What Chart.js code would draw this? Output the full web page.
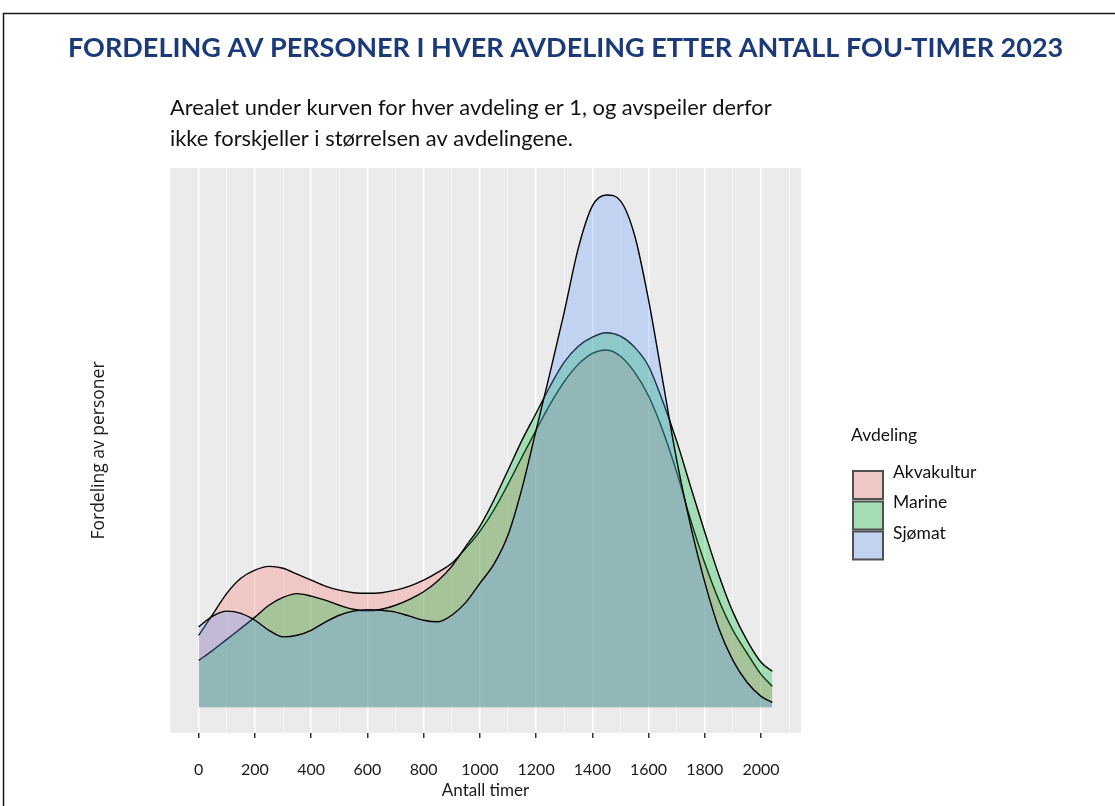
<!DOCTYPE html>
<html>
<head>
<meta charset="utf-8">
<script src="https://cdn.jsdelivr.net/npm/chart.js@4.4.1/dist/chart.umd.min.js"></script>
<style>
  body { margin: 0; background: #fff; }
  canvas { display: block; }
</style>
</head>
<body>
<canvas id="densChart" width="1115" height="806"></canvas>
<script>
var hours = [0, 50, 100, 150, 200, 250, 300, 350, 400, 450, 500, 550, 600, 650, 700, 750, 800, 850, 900, 950,
  1000, 1050, 1100, 1150, 1200, 1250, 1300, 1350, 1400, 1450, 1500, 1550, 1600, 1650, 1700, 1750, 1800, 1850, 1900, 1950,
  2000, 2040];

// density (per 1000 timer)
var akvakultur = [0.230, 0.297, 0.364, 0.412, 0.438, 0.450, 0.444, 0.425, 0.406, 0.387,
  0.374, 0.366, 0.364, 0.366, 0.374, 0.387, 0.406, 0.431, 0.460, 0.508,
  0.562, 0.630, 0.712, 0.800, 0.885, 0.968, 1.040, 1.095, 1.130, 1.141,
  1.121, 1.070, 0.994, 0.885, 0.751, 0.597, 0.460, 0.342, 0.246, 0.173,
  0.105, 0.067];
var marine = [0.150, 0.182, 0.217, 0.252, 0.288, 0.326, 0.351, 0.363, 0.355, 0.342,
  0.326, 0.313, 0.308, 0.313, 0.326, 0.345, 0.369, 0.403, 0.450, 0.514,
  0.578, 0.662, 0.757, 0.853, 0.939, 1.026, 1.102, 1.153, 1.182, 1.196,
  1.185, 1.150, 1.089, 0.978, 0.850, 0.703, 0.559, 0.422, 0.304, 0.214,
  0.144, 0.115];
var sjomat = [0.257, 0.291, 0.307, 0.300, 0.278, 0.246, 0.225, 0.230, 0.246, 0.272,
  0.294, 0.307, 0.312, 0.310, 0.304, 0.291, 0.278, 0.273, 0.294, 0.335,
  0.396, 0.457, 0.550, 0.700, 0.885, 1.070, 1.262, 1.466, 1.601, 1.636,
  1.617, 1.508, 1.300, 1.045, 0.789, 0.578, 0.399, 0.252, 0.150, 0.080,
  0.035, 0.016];

var xTicks = [0, 200, 400, 600, 800, 1000, 1200, 1400, 1600, 1800, 2000];
var avdelinger = ['Akvakultur', 'Marine', 'Sjømat'];

var titleText = 'FORDELING AV PERSONER I HVER AVDELING ETTER ANTALL FOU-TIMER 2023';
var subtitleLines = ['Arealet under kurven for hver avdeling er 1, og avspeiler derfor',
  'ikke forskjeller i størrelsen av avdelingene.'];

var fills = ['rgba(248,118,109,0.3)', 'rgba(0,186,56,0.3)', 'rgba(97,156,255,0.3)'];

function toPoints(vals) {
    return hours.map(function (h, i) { return { x: h, y: vals[i] }; });
}

function fitSize(ctx, text, weight, family, width) {
    ctx.font = weight + ' 20px ' + family;
    return 20 * width / ctx.measureText(text).width;
}

var decor = {
    id: 'decor',
    beforeDraw: function (chart) {
        var ctx = chart.ctx, a = chart.chartArea;
        ctx.save();
        ctx.fillStyle = '#ffffff';
        ctx.fillRect(0, 0, chart.width, chart.height);
        ctx.fillStyle = '#ebebeb';
        ctx.fillRect(a.left, a.top, a.right - a.left, a.bottom - a.top);
        ctx.restore();
    },
    afterDraw: function (chart) {
        var ctx = chart.ctx;
        ctx.save();
        // frame of the figure
        ctx.strokeStyle = '#1a1a1a';
        ctx.lineWidth = 1.5;
        ctx.beginPath();
        ctx.moveTo(3.5, 806);
        ctx.lineTo(3.5, 13.5);
        ctx.lineTo(1115, 13.5);
        ctx.stroke();

        // title
        ctx.textAlign = 'left';
        ctx.textBaseline = 'middle';
        ctx.fillStyle = '#1b3a7a';
        ctx.font = 'bold ' + fitSize(ctx, titleText, 'bold', 'Lato', 996) + 'px Lato';
        ctx.fillText(titleText, 68, 48);

        // subtitle
        ctx.fillStyle = '#111';
        var s = fitSize(ctx, subtitleLines[0], 'normal', 'Lato', 602);
        ctx.font = s + 'px Lato';
        ctx.fillText(subtitleLines[0], 170, 108);
        ctx.fillText(subtitleLines[1], 170, 139);

        // legend
        ctx.font = '17.5px Lato';
        ctx.fillStyle = '#111';
        ctx.fillText('Avdeling', 851, 435);
        var boxTop = [471, 501.5, 531.5];
        var labelY = [472, 502, 533];
        for (var i = 0; i < avdelinger.length; i++) {
            ctx.fillStyle = '#ebebeb';
            ctx.fillRect(853, boxTop[i], 30, 28);
            ctx.fillStyle = fills[i];
            ctx.fillRect(853, boxTop[i], 30, 28);
            ctx.strokeStyle = '#505050';
            ctx.lineWidth = 2;
            ctx.strokeRect(853, boxTop[i], 30, 28);
            ctx.fillStyle = '#111';
            ctx.fillText(avdelinger[i], 893, labelY[i]);
        }
        ctx.restore();
    }
};

function isMajor(v) { return xTicks.indexOf(v) >= 0; }

new Chart(document.getElementById('densChart'), {
    type: 'line',
    data: {
        datasets: [
            {
                label: avdelinger[0],
                data: toPoints(akvakultur),
                order: 3,
                backgroundColor: fills[0],
                fill: 'origin'
            },
            {
                label: avdelinger[1],
                data: toPoints(marine),
                order: 2,
                backgroundColor: fills[1],
                fill: 'origin'
            },
            {
                label: avdelinger[2],
                data: toPoints(sjomat),
                order: 1,
                backgroundColor: fills[2],
                fill: 'origin'
            }
        ]
    },
    options: {
        responsive: false,
        animation: false,
        layout: { padding: { left: 80, right: 314, top: 168, bottom: 0 } },
        elements: {
            line: { borderColor: '#000', borderWidth: 1.4, cubicInterpolationMode: 'monotone' },
            point: { radius: 0, hoverRadius: 0 }
        },
        plugins: {
            legend: { display: false },
            tooltip: { enabled: false },
            filler: { drawTime: 'beforeDatasetDraw' }
        },
        scales: {
            x: {
                type: 'linear',
                min: -102,
                max: 2142,
                border: { display: false },
                grid: {
                    color: function (c) { return isMajor(c.tick.value) ? '#ffffff' : '#f6f6f6'; },
                    lineWidth: function (c) { return isMajor(c.tick.value) ? 1.5 : 0.8; },
                    tickColor: function (c) { return isMajor(c.tick.value) ? '#333333' : 'rgba(0,0,0,0)'; },
                    tickLength: 5
                },
                ticks: {
                    stepSize: 100,
                    includeBounds: false,
                    autoSkip: false,
                    maxRotation: 0,
                    padding: 22,
                    color: '#1a1a1a',
                    font: { family: 'Lato', size: 16 },
                    callback: function (v) { return isMajor(v) ? String(v) : ''; }
                },
                title: {
                    display: true,
                    text: 'Antall timer',
                    color: '#1a1a1a',
                    font: { family: 'Lato', size: 17 },
                    padding: { top: 0, bottom: 5 }
                },
                afterFit: function (s) { s.height = 73; }
            },
            y: {
                min: -0.082,
                max: 1.722,
                border: { display: false },
                grid: { display: false },
                ticks: { display: false },
                title: {
                    display: true,
                    text: 'Fordeling av personer',
                    color: '#1a1a1a',
                    font: { family: 'Open Sans', size: 17.5 },
                    padding: { top: 9, bottom: 0 }
                },
                afterFit: function (s) { s.width = 90; }
            }
        }
    },
    plugins: [decor]
});
</script>
</body>
</html>
